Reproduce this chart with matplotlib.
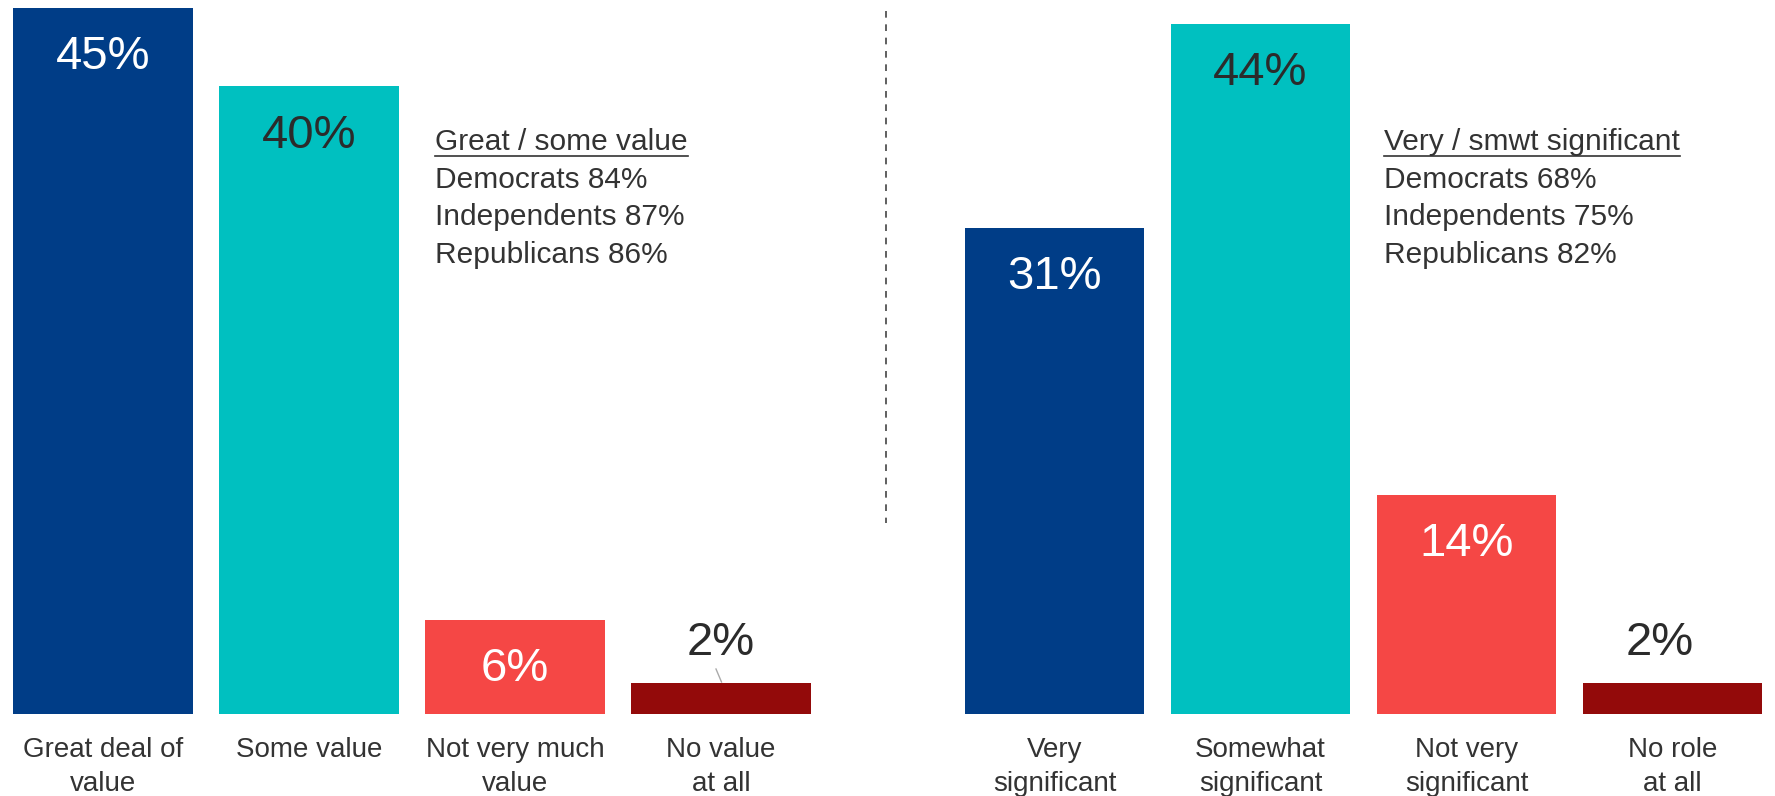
import matplotlib
matplotlib.use('Agg')
import matplotlib.pyplot as plt
from matplotlib.lines import Line2D

plt.rcParams['font.family'] = ['Liberation Sans', 'DejaVu Sans']

left_cats = ['Great deal of\nvalue', 'Some value', 'Not very much\nvalue', 'No value\nat all']
left_vals = [45, 40, 6, 2]
right_cats = ['Very\nsignificant', 'Somewhat\nsignificant', 'Not very\nsignificant', 'No role\nat all']
right_vals = [31, 44, 14, 2]

left_note = ['Great / some value', 'Democrats 84%', 'Independents 87%', 'Republicans 86%']
right_note = ['Very / smwt significant', 'Democrats 68%', 'Independents 75%', 'Republicans 82%']

colors = ['#003d87', '#00c0c0', '#f54745', '#930a0a']
label_colors = ['white', '#2b2b2b', 'white', '#2b2b2b']
txt = '#333333'

W, H = 1775, 796
fig = plt.figure(figsize=(W / 100, H / 100), dpi=100)

base = 714.3      # baseline, px from top
px_per = 15.7     # px per percent
ymax = base / px_per
step = 206.0

def make_axes(x0, cats, vals, note, note_x, dx2=0):
    # x0 = px position of xlim left edge
    x1 = min(x0 + 4 * step, W)
    ax = fig.add_axes([x0 / W, (H - base) / H, (x1 - x0) / W, base / H])
    xs = range(len(vals))
    ax.bar(xs, vals, width=0.87, color=colors)
    ax.set_xlim(-0.5, -0.5 + (x1 - x0) / step)
    ax.set_ylim(0, ymax)
    for s in ax.spines.values():
        s.set_visible(False)
    ax.set_yticks([])
    ax.set_xticks(list(xs))
    ax.set_xticklabels(cats, fontsize=20, color=txt, linespacing=1.4)
    ax.tick_params(axis='x', length=0, pad=16)
    for i, v in enumerate(vals):
        if v >= 5:
            ax.annotate(f'{v}%', (i, v), xytext=(0, -35.5), textcoords='offset points',
                        ha='center', va='center', fontsize=34, color=label_colors[i])
        else:
            ax.annotate(f'{v}%', (i, v), xytext=(dx2, 28.5), textcoords='offset points',
                        ha='center', va='center', fontsize=34, color=label_colors[i])
    # notes
    for k, line in enumerate(note):
        y = 142.5 + k * 37.4
        t = fig.text(note_x / W, 1 - y / H, line, fontsize=21.5, color=txt,
                     ha='left', va='center')
        if k == 0:
            fig.canvas.draw()
            bb = t.get_window_extent()
            fig.add_artist(Line2D([bb.x0 / W, bb.x1 / W], [1 - 156 / H] * 2,
                                  transform=fig.transFigure, color=txt, lw=1.2))
    return ax

axl = make_axes(103 - step / 2, left_cats, left_vals, left_note, 435)
axr = make_axes(1054.5 - step / 2, right_cats, right_vals, right_note, 1384, dx2=-9)

# small leader line for the left 2% label
fig.add_artist(Line2D([716 / W, 721.5 / W], [1 - 669 / H, 1 - 682 / H],
                      transform=fig.transFigure, color='#aaaaaa', lw=1))

# dashed separator
fig.add_artist(Line2D([886 / W, 886 / W], [1 - 11 / H, 1 - 523 / H],
                      transform=fig.transFigure, color='#444444', lw=1.2,
                      linestyle=(0, (4, 4))))

fig.savefig('out.png', dpi=100)
